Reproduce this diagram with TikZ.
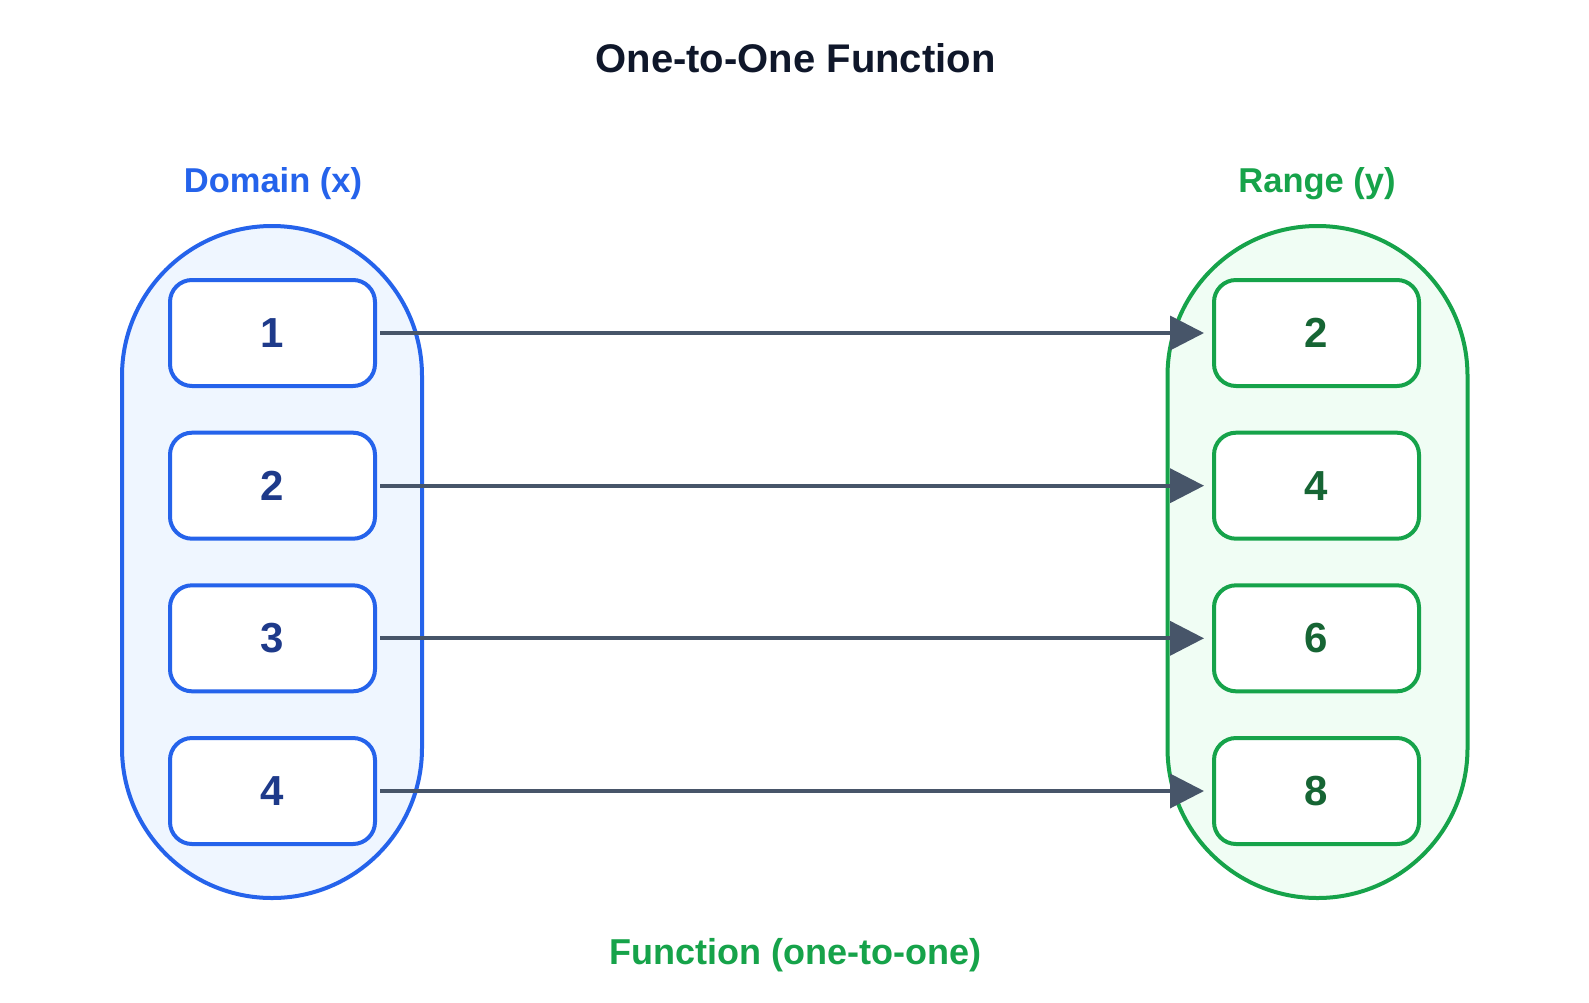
\documentclass[tikz,border=0pt]{standalone}
\usepackage{fontspec}
\setmainfont{Liberation Sans}
\usetikzlibrary{arrows.meta}
\definecolor{blueline}{HTML}{2563EB}
\definecolor{bluefill}{HTML}{EFF6FF}
\definecolor{bluetext}{HTML}{1E3A8A}
\definecolor{greenline}{HTML}{16A34A}
\definecolor{greenfill}{HTML}{F0FDF4}
\definecolor{greentext}{HTML}{166534}
\definecolor{titlecol}{HTML}{0F172A}
\definecolor{arrowcol}{HTML}{475569}
\begin{document}
\begin{tikzpicture}[x=1pt,y=-1pt,
  setbox/.style={draw, line width=4pt, rounded corners=149.9pt, minimum width=300pt, minimum height=672pt, inner sep=0pt},
  elem/.style={draw, fill=white, line width=4pt, rounded corners=22pt, minimum width=205pt, minimum height=106pt, inner sep=0pt, font=\bfseries\fontsize{42}{42}\selectfont},
  leftelem/.style={elem, draw=blueline, text=bluetext},
  rightelem/.style={elem, draw=greenline, text=greentext},
  lab/.style={anchor=base, font=\bfseries\fontsize{34.5}{36}\selectfont},
  arr/.style={draw=arrowcol, line width=3.8pt, -{Triangle[length=34pt,width=34pt]}}
]
\useasboundingbox (0,0) rectangle (1589,1002);
\fill[white] (0,0) rectangle (1589,1002);

\node[anchor=base, font=\bfseries\fontsize{40}{40}\selectfont, text=titlecol] (title) at (795.5,72) {One-to-One Function};

\node[lab, text=blueline] (domlab) at (273,192) {Domain (x)};
\node[lab, text=greenline] (ranlab) at (1317,192) {Range (y)};

\node[setbox, draw=blueline, fill=bluefill] (domain) at (272,562) {};
\node[setbox, draw=greenline, fill=greenfill] (range) at (1317.5,562) {};

\node[leftelem] (l1) at (272.5,333) {1};
\node[leftelem] (l2) at (272.5,485.7) {2};
\node[leftelem] (l3) at (272.5,638.3) {3};
\node[leftelem] (l4) at (272.5,791) {4};

\node[rightelem] (r1) at (1316.5,333) {2};
\node[rightelem] (r2) at (1316.5,485.7) {4};
\node[rightelem] (r3) at (1316.5,638.3) {6};
\node[rightelem] (r4) at (1316.5,791) {8};

\foreach \i in {1,2,3,4}{
  \draw[arr] ([xshift=3pt]l\i.east) -- ([xshift=-8pt]r\i.west);
}

\node[lab, text=greenline, font=\bfseries\fontsize{36}{38}\selectfont] (funclab) at (795.5,964) {Function (one-to-one)};
\end{tikzpicture}
\end{document}
